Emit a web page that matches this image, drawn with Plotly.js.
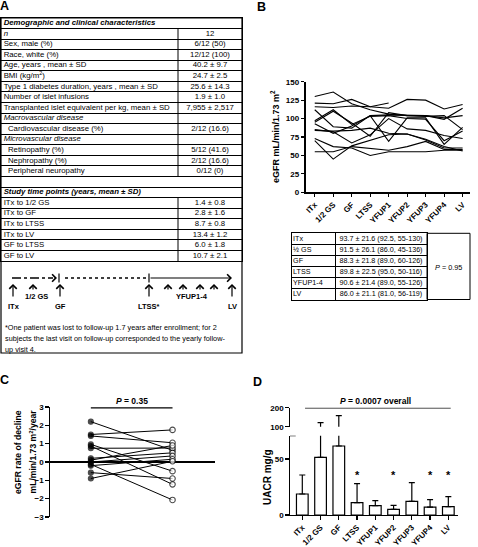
<!DOCTYPE html>
<html><head><meta charset="utf-8">
<script src="https://cdn.plot.ly/plotly-3.0.1.min.js"></script>
<style>html,body{margin:0;padding:0;background:#fff;} #chart{width:478px;height:547px;}</style>
</head><body><div id="chart"></div>
<script>
// ---------- DATA ----------
// Panel A: characteristics table
const charLabels = ['Demographic and clinical characteristics','n','Sex, male (%)','Race, white (%)',
  'Age, years , mean ± SD','BMI (kg/m2)','Type 1 diabetes duration, years , mean ± SD',
  'Number of islet infusions','Transplanted islet equivalent per kg, mean ± SD',
  'Macrovascular disease','Cardiovascular disease (%)','Microvascular disease',
  'Retinopathy (%)','Nephropathy (%)','Peripheral neuropathy','',
  'Study time points (years, mean ± SD)','ITx to 1/2 GS','ITx to GF','ITx to LTSS',
  'ITx to LV','GF to LTSS','GF to LV'];
const charValues = ['','12','6/12 (50)','12/12 (100)','40.2 ± 9.7','24.7 ± 2.5','25.6 ± 14.3',
  '1.9 ± 1.0','7,955 ± 2,517','','2/12 (16.6)','','5/12 (41.6)','2/12 (16.6)','0/12 (0)','',
  '','1.4 ± 0.8','2.8 ± 1.6','8.7 ± 0.8','13.4 ± 1.2','6.0 ± 1.8','10.7 ± 2.1'];
const timelineLabels = ['ITx','1/2 GS','GF','LTSS*','YFUP1-4','LV'];
const footnote = ['*One patient was lost to follow-up 1.7 years after enrollment; for 2',
  'subjects the last visit on follow-up corresponded to the yearly follow-',
  'up visit 4.'];

// Panel B: eGFR per patient
const timePoints = ['ITx','1/2 GS','GF','LTSS','YFUP1','YFUP2','YFUP3','YFUP4','LV'];
const egfr1  = [130,136,120,112,106,104,104,101,104];
const egfr2  = [121,120,126,116,114,126,125,113,119];
const egfr3  = [116,115,117,116,121,null,null,null,null];
const egfr4  = [112, 89, 87,104,105,104,104, 99,114];
const egfr5  = [ 97,112, 92,103,104,100, 99, 70, 83];
const egfr6  = [ 95,110, 94, 76,108,104,103,104, 85];
const egfr7  = [ 93, 80, 90,104, 69,101,101, 65, 88];
const egfr8  = [ 85, 82, 67, 78,100, 86, 84, 77, 73];
const egfr9  = [ 84, 83, 84, 87, 80, 79, 71, 60, 60];
const egfr10 = [ 73, 62, 60, 50, 55, 55, 55, 57, 57];
const egfr11 = [ 70, 45, 63, 70, 78, 79, 72, 62, 56];
const egfr12 = [ 55, 55, 62, 60, 57, 62, 69, 58, 58];
const summaryLabels = ['ITx','½ GS','GF','LTSS','YFUP1-4','LV'];
const summaryValues = ['93.7 ± 21.6 (92.5, 55-130)','91.5 ± 26.1 (86.0, 45-136)',
  '88.3 ± 21.8 (89.0, 60-126)','89.8 ± 22.5 (95.0, 50-116)','90.6 ± 21.4 (89.0, 55-126)',
  '86.0 ± 21.1 (81.0, 56-119)'];
const summaryP = '0.95';

// Panel C: eGFR rate of decline (before / after)
const declineBefore = [2.2, 1.5, 1.42, 0.96, 0.87, 0.75, 0.2, 0.1, 0.0, -0.13, -0.2, -0.58, -0.9];
const declineAfter  = [0.64,1.75,1.05,-0.5,-1.22, 0.76, 0.5, 0.9, 0.33,-2.07, 0.15, -0.9, 0.04];
const declineP = '0.35';

// Panel D: UACR
const uacrMean  = [18.75, 51.5, 61.6, 11, 8.3, 5, 12.2, 7.1, 7.4];
const uacrUpper = [35.7, 121, 158, 28, 12.8, 8.6, 28.9, 13.7, 16.4];
const uacrStars = ['LTSS','YFUP2','YFUP4','LV'];
const uacrP = '0.0007';

// ---------- HELPERS ----------
const W = 478, H = 547;
const FONT = '"Liberation Sans", Arial, Helvetica, sans-serif';
const px = X => X / W;
const py = Y => 1 - Y / H;
const nb = s => s.replace(/ /g, '\u00a0');
const idx = timePoints.map((_, i) => i);
const traces = [];

// ---------- PANEL A TABLE (text on a hidden row/column scale) ----------
const boldItalicRows = [0, 16];
const italicRows = [1, 9, 11];
const indentRows = [10, 12, 13, 14];
const noDividerRows = [0, 15, 16];
function styleLabel(s, i) {
  let t = nb(s).replace('kg/m2', 'kg/m<sup>2</sup>');
  if (indentRows.includes(i)) t = '\u00a0\u00a0' + t;
  if (boldItalicRows.includes(i)) t = '<b><i>' + t + '</i></b>';
  else if (italicRows.includes(i)) t = '<i>' + t + '</i>';
  return t;
}
const rowsA = charLabels.map((_, i) => i);
const colDivA = 177 / 241;
traces.push({type: 'scatter', mode: 'text', x: rowsA.map(() => 0.011), y: rowsA,
  text: charLabels.map(styleLabel), textposition: 'middle right', xaxis: 'x4', yaxis: 'y5',
  textfont: {family: FONT, size: 7.8, color: 'black'}, cliponaxis: false, hoverinfo: 'skip'});
traces.push({type: 'scatter', mode: 'text', x: rowsA.map(() => (colDivA + 1) / 2), y: rowsA,
  text: charValues.map(nb), textposition: 'middle center', xaxis: 'x4', yaxis: 'y5',
  textfont: {family: FONT, size: 7.8, color: 'black'}, cliponaxis: false, hoverinfo: 'skip'});

// ---------- PANEL B TABLE ----------
const rowsB = summaryLabels.map((_, i) => i);
const colDivB = 43 / 135;
traces.push({type: 'scatter', mode: 'text', x: rowsB.map(() => 0.008), y: rowsB,
  text: summaryLabels.map(nb), textposition: 'middle right', xaxis: 'x5', yaxis: 'y6',
  textfont: {family: FONT, size: 7.2, color: 'black'}, cliponaxis: false, hoverinfo: 'skip'});
traces.push({type: 'scatter', mode: 'text', x: rowsB.map(() => (colDivB + 1) / 2), y: rowsB,
  text: summaryValues.map(nb), textposition: 'middle center', xaxis: 'x5', yaxis: 'y6',
  textfont: {family: FONT, size: 7.2, color: 'black'}, cliponaxis: false, hoverinfo: 'skip'});

// ---------- PANEL B LINES ----------
const egfrSeries = [egfr1, egfr2, egfr3, egfr4, egfr5, egfr6, egfr7, egfr8, egfr9, egfr10, egfr11, egfr12];
egfrSeries.forEach(s => traces.push({
  type: 'scatter', mode: 'lines', x: idx, y: s, xaxis: 'x', yaxis: 'y',
  line: {color: 'black', width: 1.1}, hoverinfo: 'skip', connectgaps: false
}));

// ---------- PANEL C ----------
declineBefore.forEach((b, i) => traces.push({
  type: 'scatter', mode: 'lines+markers', x: [0, 1], y: [b, declineAfter[i]],
  xaxis: 'x2', yaxis: 'y2', line: {color: 'black', width: 1},
  marker: {size: [5, 5.5], color: ['black', 'white'], line: {color: 'black', width: 1.1}},
  hoverinfo: 'skip', cliponaxis: false
}));

// ---------- PANEL D ----------
['y3', 'y4'].forEach(ya => traces.push({
  type: 'bar', x: idx, y: uacrMean, xaxis: 'x3', yaxis: ya, width: 0.64,
  marker: {color: 'white', line: {color: 'black', width: 1.2}},
  error_y: {type: 'data', symmetric: false, array: uacrUpper.map((u, i) => u - uacrMean[i]),
    arrayminus: uacrMean.map(() => 0), color: 'black', thickness: 1.2, width: 3},
  hoverinfo: 'skip'
}));

// ---------- AXES ----------
const axBase = {showline: true, linecolor: 'black', linewidth: 1.2, ticks: 'outside',
  ticklen: 3.5, tickwidth: 1.2, tickcolor: 'black', showgrid: false, zeroline: false,
  tickfont: {family: FONT, size: 8, color: 'black', weight: 'bold'}, fixedrange: true};
const tableAx = {showline: true, mirror: true, linecolor: 'black', linewidth: 1, ticks: '',
  showticklabels: false, zeroline: false, fixedrange: true};

const layout = {
  width: W, height: H, margin: {l: 0, r: 0, t: 0, b: 0}, showlegend: false,
  paper_bgcolor: 'white', plot_bgcolor: 'rgba(0,0,0,0)', font: {family: FONT, color: 'black'},
  xaxis: Object.assign({}, axBase, {domain: [px(305.5), px(470)], range: [-0.5, 8.4],
    tickvals: idx, ticktext: timePoints, tickangle: -45, anchor: 'y'}),
  yaxis: Object.assign({}, axBase, {domain: [py(192.3), py(81.7)], range: [0, 150], dtick: 25, anchor: 'x'}),
  xaxis2: {domain: [px(50), px(215)], range: [-0.5, 1.52], visible: false, anchor: 'y2', fixedrange: true},
  yaxis2: Object.assign({}, axBase, {domain: [py(517), py(407)], range: [-3, 3], dtick: 1, anchor: 'x2',
    zeroline: true, zerolinecolor: 'black', zerolinewidth: 1.5}),
  xaxis3: Object.assign({}, axBase, {domain: [px(290), px(458)], range: [-0.674, 8.53],
    tickvals: idx, ticktext: timePoints, tickangle: -45, anchor: 'y3'}),
  yaxis3: Object.assign({}, axBase, {domain: [py(515), py(435.7)], range: [0, 70.8], tickvals: [0, 50], anchor: 'x3'}),
  yaxis4: Object.assign({}, axBase, {domain: [py(426.7), py(407.7)], range: [100, 200], tickvals: [100, 200], anchor: 'x3'}),
  xaxis4: Object.assign({}, tableAx, {domain: [px(1), px(242)], range: [0, 1], anchor: 'y5', showgrid: false}),
  yaxis5: Object.assign({}, tableAx, {domain: [py(261), py(18)], range: [charLabels.length - 0.5, -0.5],
    anchor: 'x4', showgrid: true, gridcolor: 'black', gridwidth: 1,
    tickvals: rowsA.slice(1).map(i => i - 0.5)}),
  xaxis5: Object.assign({}, tableAx, {domain: [px(292), px(427)], range: [0, 1], anchor: 'y6',
    showgrid: true, gridcolor: 'black', gridwidth: 1, tickvals: [colDivB]}),
  yaxis6: Object.assign({}, tableAx, {domain: [py(299.5), py(233.3)], range: [summaryLabels.length - 0.5, -0.5],
    anchor: 'x5', showgrid: true, gridcolor: 'black', gridwidth: 1,
    tickvals: rowsB.slice(1).map(i => i - 0.5)}),
  shapes: [], annotations: []
};

const S = layout.shapes, A = layout.annotations;
const pline = (x0, y0, x1, y1, extra) => S.push(Object.assign({type: 'line', xref: 'paper', yref: 'paper',
  x0: px(x0), y0: py(y0), x1: px(x1), y1: py(y1), line: {color: 'black', width: 1.2}}, extra || {}));
const txt = (text, X, Y, size, extra) => A.push(Object.assign({text: text, xref: 'paper', yref: 'paper',
  x: px(X), y: py(Y), xanchor: 'center', yanchor: 'middle', showarrow: false,
  font: {family: FONT, size: size, color: 'black'}}, extra || {}));

// Panel A column divider (skipping section rows that span both columns)
rowsA.forEach(i => {
  if (!noDividerRows.includes(i)) S.push({type: 'line', xref: 'x4', yref: 'y5', x0: colDivA, x1: colDivA,
    y0: i - 0.5, y1: i + 0.5, line: {color: 'black', width: 1}});
});

// Panel letters
txt('<b>A</b>', 4.5, 6, 12.5);
txt('<b>B</b>', 261, 7.5, 12.5);
txt('<b>C</b>', 4.5, 380, 12.5);
txt('<b>D</b>', 257, 382, 12.5);

// Panel A outer box
S.push({type: 'rect', xref: 'paper', yref: 'paper', x0: px(1), x1: px(242), y0: py(353), y1: py(18),
  line: {color: 'black', width: 1.2}});

// Timeline
pline(12, 278, 53, 278, {line: {color: 'black', width: 1.3, dash: 'dashdot'}});
A.push({text: '', xref: 'paper', yref: 'paper', x: px(57), y: py(278), ax: -4, ay: 0,
  showarrow: true, arrowhead: 4, arrowsize: 1.2, arrowwidth: 1.2, arrowcolor: 'black'});
pline(59, 273.5, 59, 282.5);
pline(65, 278, 147, 278, {line: {color: 'black', width: 1.5, dash: 'dot'}});
pline(149, 273.5, 149, 282.5);
A.push({text: '', xref: 'paper', yref: 'paper', x: px(232), y: py(278), ax: -83, ay: 0,
  showarrow: true, arrowhead: 4, arrowsize: 1.2, arrowwidth: 1.2, arrowcolor: 'black'});
const arrowX = [13, 33, 60, 149, 168, 183, 200, 214, 232];
const arrowLong = [1, 0, 1, 1, 0, 0, 0, 0, 1];
arrowX.forEach((X, i) => A.push({text: '', xref: 'paper', yref: 'paper', x: px(X), y: py(284),
  ax: 0, ay: arrowLong[i] ? 14 : 7, showarrow: true, arrowhead: 4, arrowsize: 1.2,
  arrowwidth: 1.2, arrowcolor: 'black'}));
const tlX = [14, 36, 60, 149, 192, 232], tlY = [306, 296, 306, 306, 296, 306];
timelineLabels.forEach((t, i) => txt('<b>' + t + '</b>', tlX[i], tlY[i], 7.5));
footnote.forEach((t, i) => txt(nb(t), 3, 327 + i * 11, 7.3, {xanchor: 'left'}));

// Panel B extras
S.push({type: 'rect', xref: 'paper', yref: 'paper', x0: px(427), x1: px(470), y0: py(299.5), y1: py(233.3),
  line: {color: 'black', width: 1}});
txt('<i>P</i> = ' + summaryP, 448.5, 267, 7.3);
txt('<b>eGFR mL/min/1.73 m<sup>2</sup></b>', 275, 137, 9, {textangle: -90});

// Panel C extras
S.push({type: 'line', xref: 'x2', yref: 'y2', x0: 0, x1: 1, y0: 2.95, y1: 2.95, line: {color: 'black', width: 1.2}});
A.push({text: '<b><i>P</i> = ' + declineP + '</b>', xref: 'x2', yref: 'y2', x: 0.5, y: 2.95,
  xanchor: 'center', yanchor: 'bottom', showarrow: false, font: {family: FONT, size: 8.5, color: 'black'}});
txt('<b>eGFR rate of decline</b>', 18, 452, 8.6, {textangle: -90});
txt('<b>mL/min/1.73 m<sup>2</sup>/year</b>', 32.5, 452, 8.6, {textangle: -90});

// Panel D extras
S.push({type: 'line', xref: 'x3', yref: 'y4', x0: 0.15, x1: 8.13, y0: 199, y1: 199, line: {color: 'black', width: 1.3}});
S.push({type: 'line', xref: 'x3', yref: 'y3', x0: -0.674, x1: -0.36, y0: 70.8, y1: 70.8, line: {color: 'black', width: 1.2}});
A.push({text: '<b><i>P</i> = ' + uacrP + ' overall</b>', xref: 'x3', yref: 'y4', x: 4, y: 200,
  xanchor: 'center', yanchor: 'bottom', showarrow: false, font: {family: FONT, size: 8.5, color: 'black'}});
uacrStars.forEach(c => A.push({text: '<b>*</b>', xref: 'x3', yref: 'y3', x: timePoints.indexOf(c), y: 36,
  xanchor: 'center', yanchor: 'middle', showarrow: false, font: {family: FONT, size: 11, color: 'black'}}));
txt('<b>UACR mg/g</b>', 267, 477, 10, {textangle: -90});

Plotly.newPlot('chart', traces, layout, {staticPlot: true, displayModeBar: false});
</script></body></html>
